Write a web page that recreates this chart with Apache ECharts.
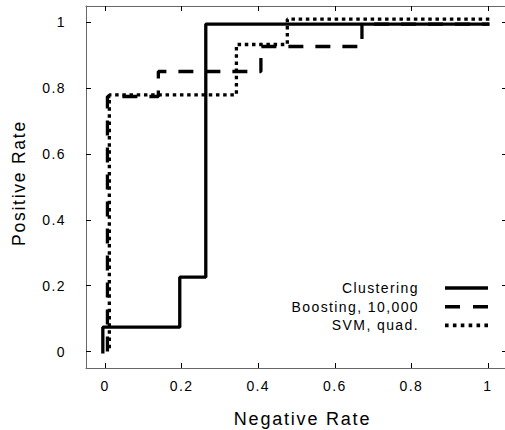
<!DOCTYPE html>
<html>
<head>
<meta charset="utf-8">
<script src="https://cdn.jsdelivr.net/npm/echarts@6/dist/echarts.min.js"></script>
<style>
  html, body { margin: 0; padding: 0; background: #fff; }
  #chart { width: 505px; height: 430px; }
  #chart svg text { letter-spacing: 0.1em; }
</style>
</head>
<body>
<div id="chart"></div>
<script>
// ---- data ----
const seriesNames = ['Clustering', 'Boosting, 10,000', 'SVM, quad.'];
const clustering = [[-0.006, -0.006], [-0.006, 0.074], [0.195, 0.074], [0.195, 0.226], [0.263, 0.226], [0.263, 0.995], [1.004, 0.995]];
const boosting = [[0.006, 0.0], [0.006, 0.775], [0.139, 0.775], [0.139, 0.851], [0.407, 0.851], [0.407, 0.927], [0.671, 0.927], [0.671, 0.995], [1.004, 0.995]];
const svm = [[0.011, 0.01], [0.011, 0.78], [0.343, 0.78], [0.343, 0.933], [0.476, 0.933], [0.476, 1.01], [1.006, 1.01]];
const xTicks = [0, 0.2, 0.4, 0.6, 0.8, 1];
const yTicks = [0, 0.2, 0.4, 0.6, 0.8, 1];
const xTickLabels = ['0', '0.2', '0.4', '0.6', '0.8', '1'];
const yTickLabels = ['0', '0.2', '0.4', '0.6', '0.8', '1'];
const xTitle = 'Negative Rate';
const yTitle = 'Positive Rate';

const FONT = 'Liberation Sans, Arial, sans-serif';
const chart = echarts.init(document.getElementById('chart'), null, { renderer: 'svg' });

function labelFor(ticks, labels) {
  return function (v) {
    for (let i = 0; i < ticks.length; i++) if (Math.abs(ticks[i] - v) < 1e-9) return labels[i];
    return '';
  };
}

// legend sample glyphs (solid, dashed, dotted)
const legendIcons = [
  'path://M0,0H43V3.6H0Z',
  'path://M0,0H15V3.6H0Z M28,0H43V3.6H28Z',
  'path://M0,0H3.6V3.6H0Z M7.88,0H11.48V3.6H7.88Z M15.76,0H19.36V3.6H15.76Z M23.64,0H27.24V3.6H23.64Z M31.52,0H35.12V3.6H31.52Z M39.4,0H43V3.6H39.4Z'
];

const axisLineStyle = { color: '#666', width: 1 };
const tickStyle = { color: '#000', width: 1 };

const option = {
  backgroundColor: '#fff',
  animation: false,
  grid: { left: 86, right: -2, top: 6, bottom: 62, containLabel: false, outerBoundsMode: 'none' },
  legend: {
    data: seriesNames.map((n, i) => ({ name: n, icon: legendIcons[i] })),
    orient: 'vertical',
    align: 'right',
    right: 17,
    top: 281,
    padding: 0,
    itemWidth: 43,
    itemHeight: 14,
    itemGap: 4.7,
    itemStyle: { color: '#000', borderWidth: 0 },
    textStyle: { fontSize: 14, fontFamily: FONT, color: '#000', padding: [0, 21, 0, 0] }
  },
  xAxis: [
    {
      type: 'value', position: 'bottom', min: -0.05, max: 1.05,
      axisLine: { show: true, onZero: false, lineStyle: axisLineStyle },
      axisTick: { show: true, inside: true, length: 5, lineStyle: tickStyle, customValues: xTicks },
      axisLabel: { show: true, customValues: xTicks, formatter: labelFor(xTicks, xTickLabels), margin: 11, fontSize: 14, fontFamily: FONT, color: '#000' },
      splitLine: { show: false },
      name: xTitle, nameLocation: 'middle', nameGap: 42,
      nameTextStyle: { fontSize: 18, fontFamily: FONT, color: '#000', padding: [0, 0, 0, 12] }
    },
    {
      type: 'value', position: 'top', min: -0.05, max: 1.05,
      axisLine: { show: true, onZero: false, lineStyle: axisLineStyle },
      axisTick: { show: true, inside: true, length: 5, lineStyle: tickStyle, customValues: xTicks },
      axisLabel: { show: false },
      splitLine: { show: false }
    }
  ],
  yAxis: [
    {
      type: 'value', position: 'left', min: -0.05, max: 1.05,
      axisLine: { show: true, onZero: false, lineStyle: axisLineStyle },
      axisTick: { show: true, inside: true, length: 5, lineStyle: tickStyle, customValues: yTicks },
      axisLabel: { show: true, customValues: yTicks, formatter: labelFor(yTicks, yTickLabels), margin: 20, fontSize: 14, fontFamily: FONT, color: '#000' },
      splitLine: { show: false },
      name: yTitle, nameLocation: 'middle', nameGap: 58,
      nameTextStyle: { fontSize: 17.5, fontFamily: FONT, color: '#000', padding: [0, 0, 0, 8] }
    },
    {
      type: 'value', position: 'right', min: -0.05, max: 1.05,
      axisLine: { show: true, onZero: false, lineStyle: axisLineStyle },
      axisTick: { show: true, inside: true, length: 5, lineStyle: tickStyle, customValues: yTicks },
      axisLabel: { show: false },
      splitLine: { show: false }
    }
  ],
  series: [
    {
      name: seriesNames[0], type: 'line', data: clustering, symbol: 'none', showSymbol: false,
      xAxisIndex: 0, yAxisIndex: 0, color: '#000',
      lineStyle: { color: '#000', width: 3.3, type: 'solid' }
    },
    {
      name: seriesNames[1], type: 'line', data: boosting, symbol: 'none', showSymbol: false,
      xAxisIndex: 0, yAxisIndex: 0, color: '#000',
      lineStyle: { color: '#000', width: 3.3, type: [15, 12] }
    },
    {
      name: seriesNames[2], type: 'line', data: svm, symbol: 'none', showSymbol: false,
      xAxisIndex: 0, yAxisIndex: 0, color: '#000',
      lineStyle: { color: '#000', width: 3.3, type: [3.5, 3.7] }
    }
  ]
};
chart.setOption(option);
</script>
</body>
</html>
